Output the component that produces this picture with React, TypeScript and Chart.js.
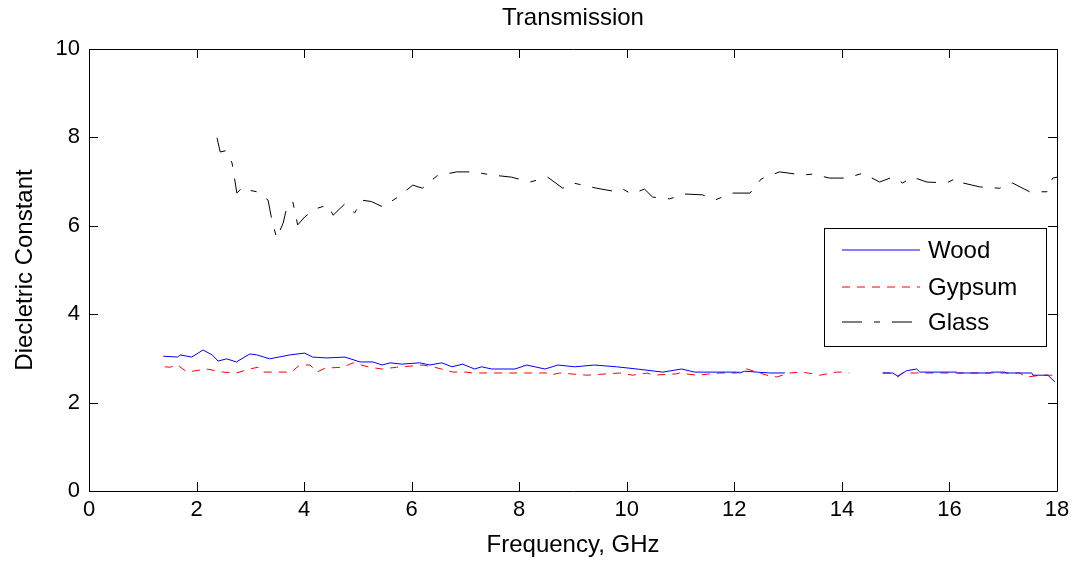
import React, { useEffect, useRef } from "react";
import { Chart, registerables } from "chart.js";

Chart.register(...registerables);

const titleText = "Transmission";
const xLabel = "Frequency, GHz";
const yLabel = "Diecletric Constant";
const seriesNames = ["Wood", "Gypsum", "Glass"];
const xTicks = [0, 2, 4, 6, 8, 10, 12, 14, 16, 18];
const yTicks = [0, 2, 4, 6, 8, 10];

const woodX = [1.38, 1.65, 1.69, 1.91, 2.12, 2.29, 2.4, 2.56, 2.74, 2.99, 3.12, 3.36, 3.74, 4.01, 4.16, 4.42, 4.76, 5.04, 5.28, 5.45, 5.6, 5.82, 6.15, 6.34, 6.56, 6.75, 6.95, 7.17, 7.3, 7.49, 7.92, 8.14, 8.29, 8.48, 8.72, 9.03, 9.4, 9.81, 10.19, 10.67, 11.02, 11.26, 12.04, 12.1, 12.19, 12.42, 12.66, 12.94, 13.5, 14.76, 14.94, 15.04, 15.2, 15.39, 15.45, 16.13, 16.15, 16.75, 16.78, 17.03, 17.06, 17.53, 17.55, 17.83, 17.96];
const woodY = [3.05, 3.03, 3.08, 3.03, 3.19, 3.08, 2.94, 2.99, 2.92, 3.1, 3.08, 2.99, 3.08, 3.12, 3.03, 3.01, 3.03, 2.92, 2.92, 2.85, 2.9, 2.87, 2.9, 2.85, 2.9, 2.81, 2.87, 2.76, 2.81, 2.76, 2.76, 2.85, 2.81, 2.76, 2.85, 2.81, 2.85, 2.81, 2.76, 2.69, 2.76, 2.69, 2.69, 2.67, 2.71, 2.69, 2.67, 2.67, null, 2.67, 2.67, 2.6, 2.72, 2.76, 2.69, 2.69, 2.67, 2.67, 2.69, 2.69, 2.67, 2.67, 2.62, 2.62, 2.47];

const gypsumX = [1.41, 1.5, 1.65, 1.82, 2.19, 2.49, 2.74, 2.99, 3.14, 3.23, 3.68, 3.74, 3.92, 4.11, 4.24, 4.39, 4.72, 4.91, 5.22, 5.45, 5.72, 6.02, 6.21, 6.49, 6.77, 7.02, 7.14, 7.4, 8.01, 8.25, 8.51, 8.57, 8.75, 9.26, 9.87, 10.11, 10.39, 10.48, 10.93, 10.98, 11.3, 11.73, 12.04, 12.23, 12.42, 12.6, 12.79, 13.03, 13.27, 13.46, 13.59, 13.9, 14.09, 14.14, 14.45, 14.76, 14.89, 15.04, 15.13, 15.58, 16.13, 16.8, 17.3, 17.43, 17.73, 17.92];
const gypsumY = [2.81, 2.8, 2.85, 2.69, 2.76, 2.69, 2.67, 2.76, 2.8, 2.69, 2.69, 2.67, 2.85, 2.85, 2.69, 2.78, 2.8, 2.9, 2.8, 2.76, 2.8, 2.83, 2.85, 2.78, 2.69, 2.69, 2.67, 2.67, 2.67, 2.67, 2.67, 2.62, 2.67, 2.62, 2.67, 2.62, 2.67, 2.62, 2.65, 2.67, 2.62, 2.67, 2.67, 2.76, 2.69, 2.62, 2.58, 2.67, 2.69, 2.65, 2.62, 2.69, 2.69, 2.67, null, 2.67, 2.67, 2.58, 2.67, 2.67, 2.67, 2.67, 2.67, 2.58, 2.62, 2.62];

const glassX = [2.38, 2.44, 2.55, 2.66, 2.75, 2.86, 3.0, 3.12, 3.33, 3.4, 3.49, 3.61, 3.68, 3.79, 3.88, 4.01, 4.2, 4.44, 4.54, 4.76, 4.94, 5.07, 5.25, 5.46, 5.72, 6.02, 6.2, 6.47, 6.84, 7.14, 7.49, 7.86, 8.2, 8.53, 8.81, 9.0, 9.44, 9.81, 9.93, 10.09, 10.33, 10.48, 10.8, 11.08, 11.41, 11.63, 11.97, 12.29, 12.5, 12.84, 13.27, 13.46, 13.77, 14.09, 14.39, 14.7, 14.94, 15.13, 15.32, 15.58, 15.95, 16.13, 16.25, 16.56, 16.93, 17.17, 17.49, 17.81, 17.92, 18.0];
const glassY = [7.99, 7.67, 7.7, 7.42, 6.74, 6.88, 6.8, 6.77, 6.58, 6.13, 5.72, 6.06, 6.43, 6.54, 6.02, 6.2, 6.38, 6.47, 6.24, 6.5, 6.29, 6.58, 6.55, 6.43, 6.63, 6.92, 6.85, 7.13, 7.22, 7.22, 7.15, 7.1, 6.99, 7.1, 6.85, 6.97, 6.85, 6.77, 6.83, 6.72, 6.83, 6.65, 6.61, 6.72, 6.7, 6.58, 6.74, 6.74, 7.06, 7.22, 7.15, 7.17, 7.08, 7.08, 7.19, 6.99, 7.1, 6.97, 7.1, 6.99, 6.97, 7.08, 6.97, 6.88, 6.85, 6.97, 6.77, 6.77, 7.08, 7.1];

const FONT = "Arial, 'Liberation Sans', Helvetica, sans-serif";
const COLORS = ["rgb(0,0,255)", "rgb(255,0,0)", "rgb(0,0,0)"];
const DASHES: number[][] = [[], [8, 7], [20, 12, 6, 12]];

const pairs = (xs: number[], ys: (number | null)[]) => xs.map((x, i) => ({ x, y: ys[i] }));

const framePlugin = {
  id: "matlabFrame",
  afterDraw(chart: any) {
    const { ctx, chartArea } = chart;
    const { left, right, top, bottom } = chartArea;
    const xs = chart.scales.x;
    const ys = chart.scales.y;
    ctx.save();
    ctx.strokeStyle = "#000";
    ctx.lineWidth = 1;
    ctx.setLineDash([]);
    ctx.beginPath();
    ctx.rect(Math.round(left) + 0.5, Math.round(top) + 0.5, Math.round(right - left), Math.round(bottom - top));
    ctx.stroke();
    const tl = 9;
    ctx.beginPath();
    xTicks.forEach((v) => {
      const px = Math.round(xs.getPixelForValue(v)) + 0.5;
      ctx.moveTo(px, bottom);
      ctx.lineTo(px, bottom - tl);
      ctx.moveTo(px, top);
      ctx.lineTo(px, top + tl);
    });
    yTicks.forEach((v) => {
      const py = Math.round(ys.getPixelForValue(v)) + 0.5;
      ctx.moveTo(left, py);
      ctx.lineTo(left + tl, py);
      ctx.moveTo(right, py);
      ctx.lineTo(right - tl, py);
    });
    ctx.stroke();

    // title, centred over the plot area
    ctx.fillStyle = "#000";
    ctx.font = `24px ${FONT}`;
    ctx.textAlign = "center";
    ctx.textBaseline = "middle";
    ctx.fillText(titleText, (left + right) / 2, 18);

    // legend
    const bx = 824, by = 228, bw = 222, bh = 118;
    ctx.fillStyle = "#fff";
    ctx.fillRect(bx, by, bw, bh);
    ctx.strokeStyle = "#000";
    ctx.strokeRect(bx + 0.5, by + 0.5, bw, bh);
    const rows = [250, 287, 322];
    ctx.font = `24px ${FONT}`;
    ctx.textBaseline = "middle";
    ctx.textAlign = "left";
    chart.data.datasets.forEach((ds: any, i: number) => {
      ctx.save();
      ctx.lineWidth = 1.2;
      ctx.setLineDash(DASHES[i]);
      ctx.strokeStyle = ds.borderColor;
      ctx.beginPath();
      ctx.moveTo(842, rows[i]);
      ctx.lineTo(920, rows[i]);
      ctx.stroke();
      ctx.restore();
      ctx.fillStyle = "#000";
      ctx.fillText(ds.label, 928, rows[i] + 1);
    });
    ctx.restore();
  },
};

export default function App() {
  const ref = useRef<HTMLCanvasElement | null>(null);
  useEffect(() => {
    document.body.style.margin = "0";
    document.body.style.background = "#fff";
    const canvas = ref.current!;
    const chart = new Chart(canvas, {
      type: "line",
      data: {
        datasets: [
          { label: seriesNames[0], data: pairs(woodX, woodY) },
          { label: seriesNames[1], data: pairs(gypsumX, gypsumY) },
          { label: seriesNames[2], data: pairs(glassX, glassY) },
        ].map((d, i) => ({
          ...d,
          borderColor: COLORS[i],
          backgroundColor: COLORS[i],
          borderWidth: 1,
          borderDash: DASHES[i],
          pointRadius: 0,
          tension: 0,
          spanGaps: false,
          fill: false,
        })),
      },
      options: {
        animation: false,
        responsive: false,
        maintainAspectRatio: false,
        layout: { padding: { left: 0, right: 23, top: 49, bottom: 0 } },
        plugins: {
          legend: { display: false },
          tooltip: { enabled: false },
          title: { display: false },
        },
        scales: {
          x: {
            type: "linear",
            min: 0,
            max: 18,
            afterFit: (s: any) => { s.height = 76; },
            afterBuildTicks: (s: any) => { s.ticks = xTicks.map((v) => ({ value: v })); },
            ticks: { color: "#000", font: { family: FONT, size: 22 }, padding: 6, maxRotation: 0, autoSkip: false },
            grid: { display: false, drawTicks: false },
            border: { display: false },
            title: { display: true, text: xLabel, color: "#000", font: { family: FONT, size: 24 }, padding: { top: 0, bottom: 7 } },
          },
          y: {
            type: "linear",
            min: 0,
            max: 10,
            afterFit: (s: any) => { s.width = 89; },
            afterBuildTicks: (s: any) => { s.ticks = yTicks.map((v) => ({ value: v })); },
            ticks: { color: "#000", font: { family: FONT, size: 22 }, padding: 9, autoSkip: false },
            grid: { display: false, drawTicks: false },
            border: { display: false },
            title: { display: true, text: yLabel, color: "#000", font: { family: FONT, size: 24 }, padding: { top: 11, bottom: 0 } },
          },
        },
      },
      plugins: [framePlugin],
    } as any);
    return () => chart.destroy();
  }, []);
  return (
    <div style={{ width: 1080, height: 567, background: "#fff" }}>
      <canvas ref={ref} width={1080} height={567} style={{ display: "block" }} />
    </div>
  );
}
